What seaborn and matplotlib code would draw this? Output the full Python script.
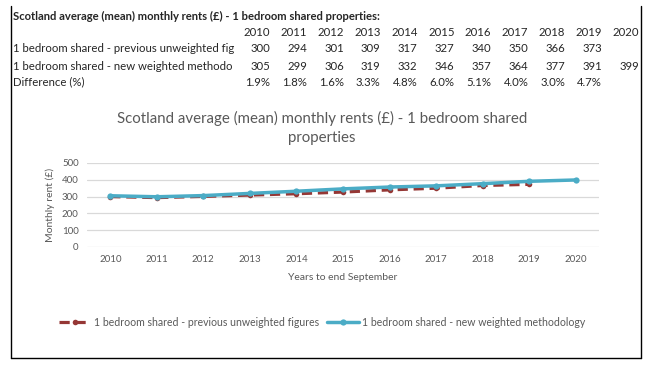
import numpy as np
import pandas as pd
import seaborn as sns
import matplotlib.pyplot as plt
from matplotlib.lines import Line2D

years = [2010, 2011, 2012, 2013, 2014, 2015, 2016, 2017, 2018, 2019, 2020]
unweighted = [300, 294, 301, 309, 317, 327, 340, 350, 366, 373, np.nan]
weighted = [305, 299, 306, 319, 332, 346, 357, 364, 377, 391, 399]
diff_pct = ['1.9%', '1.8%', '1.6%', '3.3%', '4.8%', '6.0%', '5.1%', '4.0%', '3.0%', '4.7%', '']

table_title = 'Scotland average (mean) monthly rents (£) - 1 bedroom shared properties:'
row_labels = ['1 bedroom shared - previous unweighted fig',
              '1 bedroom shared - new weighted methodo',
              'Difference (%)']
series_names = ['1 bedroom shared - previous unweighted figures',
                '1 bedroom shared - new weighted methodology']
chart_title = 'Scotland average (mean) monthly rents (£) - 1 bedroom shared\nproperties'

sns.set_style("white")
plt.rcParams['font.family'] = ['Lato', 'DejaVu Sans']

W, H = 651, 368
fig = plt.figure(figsize=(W / 100, H / 100), dpi=100)

def fx(px):
    return px / W

def fy(py):
    return 1 - py / H

# ---- table above the chart (spreadsheet cells)
fig.text(fx(13), fy(16), table_title, fontsize=8.1, fontweight='bold', va='center', ha='left')
col_right = [270 + i * 36.9 for i in range(len(years))]
rows = [[str(y) for y in years],
        ['' if np.isnan(v) else str(int(v)) for v in unweighted],
        [str(v) for v in weighted],
        diff_pct]
row_y = [33, 49, 66, 82]
for r, (vals, yy) in enumerate(zip(rows, row_y)):
    if r > 0:
        fig.text(fx(13), fy(yy), row_labels[r - 1], fontsize=8.2, va='center', ha='left')
    for xr, v in zip(col_right, vals):
        fig.text(fx(xr), fy(yy), v, fontsize=8.2, va='center', ha='right')

# ---- chart
ax = fig.add_axes([fx(87), fy(247), fx(599) - fx(87), fy(163) - fy(247)])
df = pd.DataFrame({'year': years, 'unweighted': unweighted, 'weighted': weighted})

sns.lineplot(data=df, x='year', y='unweighted', ax=ax, color='#953735', linewidth=2.3,
             linestyle=(0, (3.2, 1.8)), marker='o', markersize=4, markeredgewidth=0,
             label=series_names[0], zorder=3)
sns.lineplot(data=df, x='year', y='weighted', ax=ax, color='#4BACC6', linewidth=2.5,
             marker='o', markersize=4.5, markeredgewidth=0,
             label=series_names[1], zorder=4)

ax.set_xlim(2009.5, 2020.5)
ax.set_ylim(0, 500)
ax.set_xticks(years)
ax.set_yticks(range(0, 501, 100))
ax.grid(axis='y', color='#D9D9D9', linewidth=0.9)
ax.grid(axis='x', visible=False)
for s in ax.spines.values():
    s.set_visible(False)
ax.tick_params(length=0, labelsize=7, colors='#595959', pad=6)
ax.set_xlabel('Years to end September', fontsize=7.5, color='#595959', labelpad=6)
ax.set_ylabel('Monthly rent (£)', fontsize=7.5, color='#595959', labelpad=5)
ax.set_title('')
fig.text(fx(322), fy(128), chart_title, fontsize=10.8, color='#595959', ha='center',
         va='center', linespacing=1.4)

handles, labels = ax.get_legend_handles_labels()
ax.get_legend().remove()
fig.legend(handles, labels, loc='center', bbox_to_anchor=(fx(322), fy(322)), ncol=2,
           frameon=False, fontsize=7.6, labelcolor='#595959', handlelength=3,
           columnspacing=0.8, handletextpad=0.3)

# chart / sheet border lines
fig.add_artist(Line2D([fx(11), fx(11)], [fy(6), fy(358)], color='black', lw=1))
fig.add_artist(Line2D([fx(641), fx(641)], [fy(6), fy(358)], color='black', lw=1))
fig.add_artist(Line2D([fx(11), fx(641)], [fy(358), fy(358)], color='black', lw=1))

fig.savefig('out.png', dpi=100)
